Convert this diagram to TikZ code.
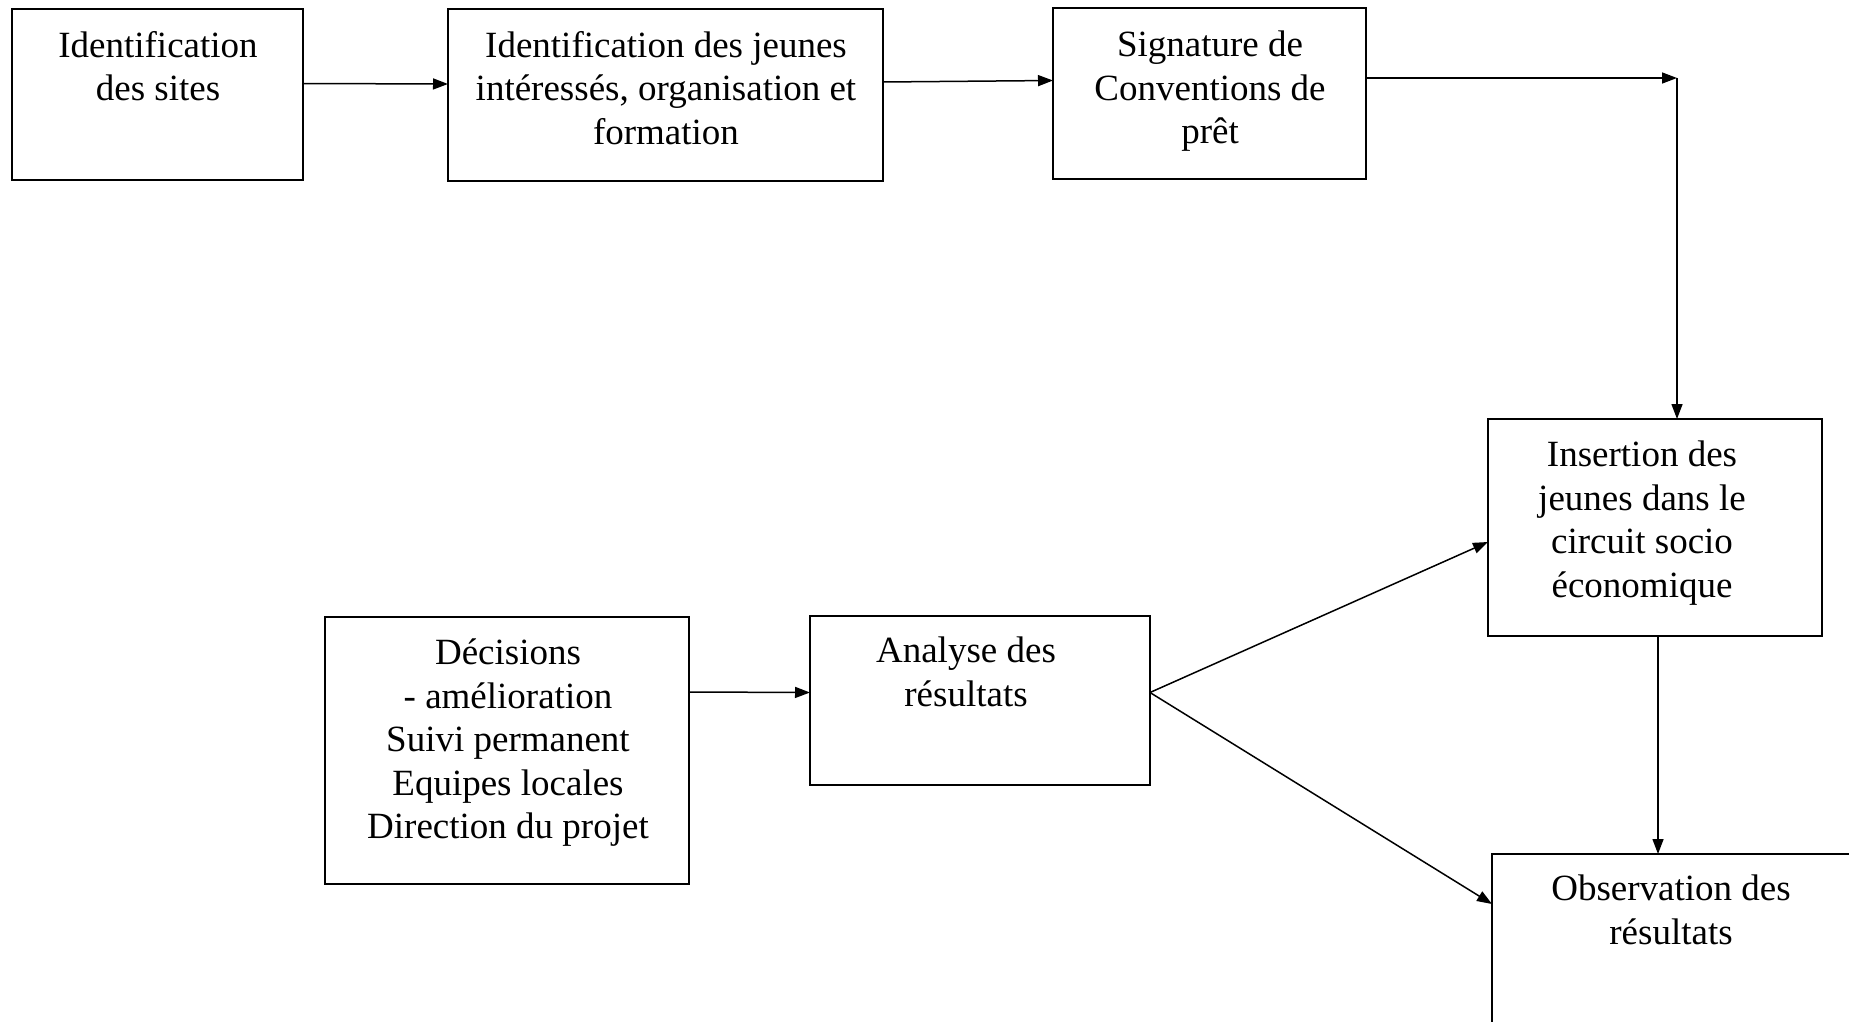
\documentclass[tikz,border=0pt]{standalone}
\usepackage{fontspec}
\setmainfont{Liberation Serif}
\usetikzlibrary{arrows.meta}
\begin{document}
\begin{tikzpicture}[x=1pt,y=-1pt,
  box/.style={draw=black,line width=1.7pt,rectangle,inner sep=0pt,outer sep=0pt},
  txt/.style={anchor=north,align=center,inner sep=0pt,font=\fontsize{37}{43.5}\selectfont},
  arr/.style={line width=1.5pt,-{Triangle[length=15pt,width=11pt]}},
  ln/.style={line width=1.5pt}]
\useasboundingbox (0,0) rectangle (1849,1022);
% boxes
\node[box,minimum width=291pt,minimum height=171pt] (b1) at (157.5,94.5) {};
\node[box,minimum width=435pt,minimum height=172pt] (b2) at (665.5,95) {};
\node[box,minimum width=313pt,minimum height=171pt] (b3) at (1209.5,93.5) {};
\node[box,minimum width=334pt,minimum height=217pt] (b4) at (1655,527.5) {};
\node[box,minimum width=360pt,minimum height=171pt] (b5) at (1672,939.5) {};
\node[box,minimum width=364pt,minimum height=267pt] (b6) at (507,750.5) {};
\node[box,minimum width=340pt,minimum height=169pt] (b7) at (980,700.5) {};
% texts
\node[txt] (t1) at (158,31) {Identification\\des sites};
\node[txt] (t2) at (666,31) {Identification des jeunes\\intéressés, organisation et\\formation};
\node[txt] (t3) at (1210,31) {Signature de\\Conventions de\\prêt};
\node[txt] (t4) at (1642,441) {Insertion des\\jeunes dans le\\circuit socio\\économique};
\node[txt] (t5) at (1671,875) {Observation des\\résultats};
\node[txt] (t6) at (508,639) {Décisions\\- amélioration\\Suivi permanent\\Equipes locales\\Direction du projet};
\node[txt] (t7) at (966,637) {Analyse des\\résultats};
% connectors
\coordinate (c1) at (1677,78);
\draw[arr] ([yshift=11pt]b1.east) -- ([yshift=11pt]b2.west);
\draw[arr] ([yshift=13pt]b2.east) -- ([yshift=13pt]b3.west);
\draw[arr] ([yshift=15.5pt]b3.east) -- (c1);
\draw[arr] (c1) -- (c1 |- b4.north);
\draw[arr] ([yshift=58.5pt]b6.east) -- ([yshift=8pt]b7.west);
\draw[arr] ([yshift=8pt]b7.east) -- ([yshift=-14.5pt]b4.west);
\draw[arr] ([yshift=8pt]b7.east) -- ([yshift=35.5pt]b5.west);
\draw[arr] ([xshift=3pt]b4.south) -- ([xshift=3pt]b4.south |- b5.north);
\end{tikzpicture}
\end{document}
